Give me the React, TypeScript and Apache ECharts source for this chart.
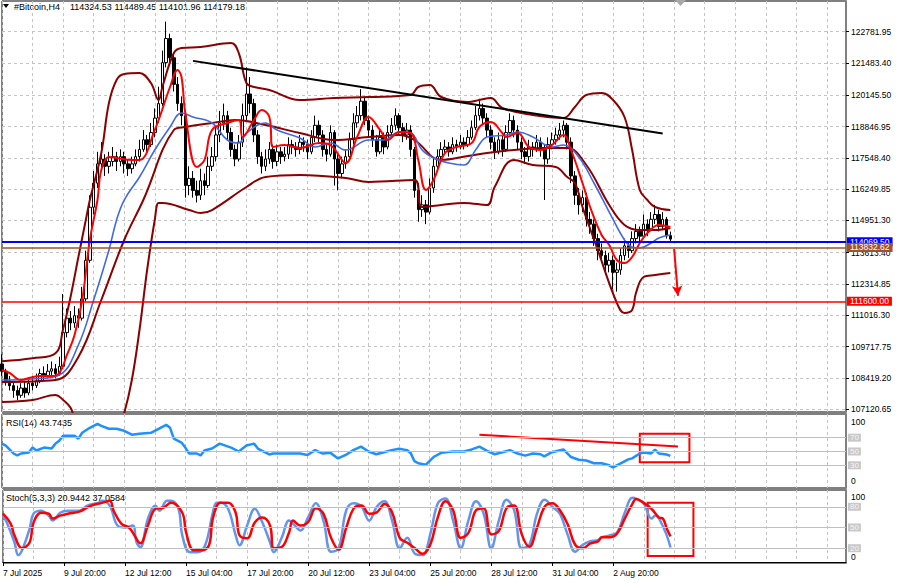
import React, { useEffect, useRef } from 'react';
import * as echarts from 'echarts';

const FONT = 'Liberation Sans, Arial, sans-serif';
const CAT_COUNT = 222;
const X_TICK_LABELS = ['7 Jul 2025', '9 Jul 20:00', '12 Jul 12:00', '15 Jul 04:00', '17 Jul 20:00', '20 Jul 12:00', '23 Jul 04:00', '25 Jul 20:00', '28 Jul 12:00', '31 Jul 04:00', '2 Aug 20:00'];
const PRICE_TICKS = [107120.65, 108419.2, 109717.75, 111016.3, 112314.85, 113613.4, 114951.3, 116249.85, 117548.4, 118846.95, 120145.5, 121483.4, 122781.95];

// [open, close, low, high]
const CANDLES: number[][] = [
  [109000,108700,108500,109400],[108700,108300,108100,108800],[108300,108100,107900,108500],[108100,107900,107600,108300],
  [107900,107700,107500,108100],[107700,108000,107600,108200],[108000,107800,107600,108300],[107800,108200,107700,108400],
  [108200,108100,107900,108500],[108100,108300,108000,108600],[108300,108600,108200,108800],[108600,108500,108300,108900],
  [108500,108700,108400,109000],[108700,108800,108500,109100],[108800,108600,108400,109000],[108600,108900,108500,109300],
  [108900,110300,108800,111900],[110300,110900,110100,111300],[110900,110700,110400,111200],[110700,111000,110500,111400],
  [111000,110900,110500,111300],[110900,111700,110800,112200],[111700,113300,111600,113700],[113300,115500,113200,116000],
  [115500,116500,115200,117000],[116500,117300,116300,117800],[117300,117500,117000,118200],[117500,117200,116800,117700],
  [117200,117400,116900,117800],[117400,117600,117200,118000],[117600,117400,117000,117800],[117400,117600,117200,117900],
  [117600,117300,116900,117800],[117300,117100,116800,117500],[117100,117300,116900,117600],[117300,117600,117200,117900],
  [117600,117900,117400,118300],[117900,118300,117800,118700],[118300,118100,117800,118500],[118100,118600,118000,119000],
  [118600,119200,118400,119600],[119200,119800,119000,120500],[119800,121500,119700,122000],[121500,122500,121300,123200],
  [122500,121700,121400,122700],[121700,120600,120300,121900],[120600,119800,119500,120900],[119800,119300,118900,120100],
  [119300,116400,115900,119500],[116400,116700,116000,117200],[116700,116200,115900,117000],[116200,116000,115700,116600],
  [116000,116600,115800,117100],[116600,116400,116000,116900],[116400,117200,116300,117600],[117200,117600,117000,118000],
  [117600,118500,117400,118900],[118500,119000,118200,119500],[119000,119300,118700,119800],[119300,118600,118300,119500],
  [118600,117900,117600,118800],[117900,117500,117200,118100],[117500,118200,117400,118500],[118200,119300,118000,119800],
  [119300,120200,119100,121300],[120200,119800,119400,120900],[119800,118500,118200,120000],[118500,117600,117300,118700],
  [117600,117200,116900,117800],[117200,117500,117000,117900],[117500,117900,117300,118200],[117900,117400,117100,118100],
  [117400,117800,117200,118100],[117800,117600,117300,118000],[117600,117700,117400,118000],[117700,118100,117500,118400],
  [118100,118000,117700,118300],[118000,117900,117600,118200],[117900,118200,117700,118500],[118200,118100,117800,118400],
  [118100,117800,117500,118300],[117800,118400,117700,118700],[118400,118900,118200,119300],[118900,118500,118200,119100],
  [118500,117900,117600,118700],[117900,117700,117400,118100],[117700,118600,117600,118900],[118600,117500,116400,118700],
  [117500,116900,116200,117700],[116900,117300,116700,117600],[117300,117600,117100,117900],[117600,118300,117500,118600],
  [118300,119000,118100,119400],[119000,119300,118800,119700],[119300,119900,119100,120400],[119900,119100,118900,120100],
  [119100,118700,118400,119300],[118700,118300,118000,118900],[118300,117800,117600,118500],[117800,118400,117700,118700],
  [118400,118000,117700,118600],[118000,118600,117900,118900],[118600,118900,118400,119200],[118900,119300,118700,119600],
  [119300,118800,118500,119400],[118800,118500,118200,119000],[118500,118700,118300,119000],[118700,117900,117600,118900],
  [117900,116200,115900,118000],[116200,115400,114900,116500],[115400,115600,115100,116000],[115600,115300,114800,115800],
  [115300,116300,115200,116700],[116300,117200,116100,117500],[117200,117600,117000,117900],[117600,117900,117400,118200],
  [117900,118000,117700,118300],[118000,117800,117600,118200],[117800,118100,117700,118400],[118100,118000,117800,118300],
  [118000,118200,117900,118500],[118200,118100,117900,118400],[118100,118400,118000,118700],[118400,118800,118300,119100],
  [118800,119300,118700,119700],[119300,119600,119100,120000],[119600,119200,118900,119800],[119200,118700,118400,119400],
  [118700,118200,117900,118900],[118200,117800,117500,118400],[117800,118300,117700,118600],[118300,117900,117600,118500],
  [117900,118600,117800,118900],[118600,119100,118500,119400],[119100,118700,118400,119300],[118700,118200,117900,118900],
  [118200,117800,117500,118400],[117800,117600,117300,118000],[117600,118000,117400,118300],[118000,117900,117600,118200],
  [117900,118200,117800,118500],[118200,117900,117600,118400],[117900,117500,115800,118100],[117500,118100,117300,118400],
  [118100,118300,117900,118600],[118300,118500,118100,118800],[118500,118700,118300,119000],[118700,118900,118400,119100],
  [118900,118200,117900,119000],[118200,116800,116500,118400],[116800,116000,115600,117000],[116000,115600,115200,116300],
  [115600,115900,115300,116200],[115900,115000,114700,116100],[115000,114800,114400,115300],[114800,114200,113900,115000],
  [114200,113700,113300,114400],[113700,113500,113200,114000],[113500,113100,112700,113700],[113100,113300,112800,113600],
  [113300,112800,112100,113500],[112800,112900,112000,113200],[112900,113500,112700,113800],[113500,113900,113300,114200],
  [113900,113700,113400,114100],[113700,114200,113600,114500],[114200,114500,114000,114800],[114500,114300,114000,114700],
  [114300,114800,114200,115200],[114800,114600,114300,115000],[114600,115000,114500,115300],[115000,115200,114800,115600],
  [115200,114700,114500,115400],[114700,115000,114600,115300],[115000,114320,114200,115100],[114324.53,114179.18,114101.96,114489.45],
];

// [bar index, value]
const BB_UPPER = [[0,109110],[8,109233],[14,109440],[16,110450],[18,111819],[20,113436],[22,115013],[23,115801],[26,117750],[28,119823],[30,120779],[32,121027],[36,121069],[39,120654],[41,119949],[42,120488],[45,121898],[47,122106],[52,122147],[60,122313],[62,121898],[64,120654],[66,120488],[70,120364],[78,119949],[87,120032],[96,120073],[107,120156],[109,120488],[112,120571],[115,120073],[122,119866],[125,119949],[128,120032],[131,119617],[139,119327],[147,119203],[150,119659],[153,120156],[157,120239],[160,119949],[163,119244],[165,117875],[167,116216],[169,115801],[171,115511],[175,115386]];
const BB_MIDDLE = [[0,108252],[14,108334],[20,109289],[26,111653],[32,114142],[37,115801],[45,118705],[48,118829],[55,118995],[61,119121],[69,118912],[78,118580],[87,118290],[96,118414],[104,118497],[108,118290],[115,117460],[122,117626],[127,117751],[134,117875],[142,117958],[148,117958],[153,117253],[159,115594],[163,114764],[167,114557],[171,114557],[175,114640]];
const BB_LOWER = [[0,107422],[8,107505],[14,107713],[16,107505],[18,107173],[19,106675],[20,106300],[22,105900],[25,105600],[28,105600],[30,106100],[32,106966],[34,108334],[36,110408],[38,112897],[40,114971],[41,115676],[42,115676],[49,115386],[52,115262],[55,115386],[64,116340],[69,116755],[78,116838],[90,116713],[96,116547],[108,116631],[110,115511],[115,115594],[121,115677],[127,115594],[129,116340],[134,117460],[139,117253],[145,117170],[148,116755],[150,116506],[152,115511],[156,113727],[161,111529],[163,111114],[165,111238],[166,111944],[168,112607],[171,112690],[175,112773]];
const MA_FAST = [[0,108749],[2,108625],[5,108334],[7,108417],[10,108500],[13,108500],[15,108625],[17,109372],[19,110201],[21,111653],[23,114142],[25,115801],[26,117045],[28,117585],[30,117543],[34,117460],[36,117460],[40,118705],[44,120488],[46,121193],[47,120903],[48,119410],[51,117170],[53,117460],[55,118705],[59,118995],[62,119121],[63,118415],[66,119121],[68,119534],[70,119244],[71,118000],[74,118082],[78,117958],[83,118165],[86,118082],[90,117336],[93,118415],[96,119244],[99,118705],[101,118290],[104,118622],[107,118580],[109,117460],[111,116216],[113,116631],[116,117751],[119,118000],[123,118165],[125,118829],[128,119036],[131,118580],[132,118414],[135,118580],[138,118000],[141,117875],[144,118082],[147,118497],[149,117875],[152,116506],[154,115511],[157,114350],[159,113934],[161,113312],[163,113188],[165,113437],[167,114017],[169,114432],[172,114764],[175,114681]];
const MA_SLOW = [[0,108334],[8,108376],[15,108542],[20,109786],[24,111653],[28,113727],[30,114971],[32,115801],[36,116755],[40,117875],[44,118829],[47,119410],[50,119244],[55,118995],[59,118290],[62,118165],[64,118580],[69,118995],[72,118705],[78,118373],[82,118000],[86,118165],[90,117875],[96,118290],[100,118290],[104,118622],[107,118580],[110,117875],[113,117543],[117,117336],[121,117253],[124,117875],[127,118414],[132,118497],[135,118622],[139,118414],[144,118000],[147,118082],[151,117585],[155,116506],[159,115303],[163,114142],[165,113852],[167,113810],[170,114017],[172,114225],[175,114350]];

const RSI = [[0,61.4],[1,58.6],[3,47.1],[4,44.3],[5,47.1],[7,48.6],[8,55.7],[9,51.4],[11,55.7],[13,54.3],[14,61.4],[15,65.7],[16,72.9],[19,72.9],[20,68.6],[21,77.1],[23,84.3],[25,90],[26,87.1],[28,82.9],[30,82.9],[32,80],[34,74.3],[36,75.7],[39,77.1],[41,82.9],[43,88.6],[44,84.3],[45,68.6],[47,62.9],[48,55.7],[49,47.1],[51,47.1],[52,44.3],[53,51.4],[55,54.3],[57,61.4],[60,55.7],[62,50],[64,58.6],[66,61.4],[67,54.3],[68,51.4],[70,45.7],[71,47.1],[75,47.1],[78,47.1],[80,45],[82,52],[84,47],[86,48],[88,40],[90,45],[92,52],[94,57],[96,50],[98,46],[100,49],[102,52],[104,54],[106,52],[107,48],[108,36],[109,33],[111,31],[113,42],[115,48],[118,50],[121,50],[123,53],[125,57],[127,51],[129,46],[131,49],[133,52],[135,47],[137,44],[139,47],[141,46],[142,43],[144,49],[147,53],[149,42],[151,38],[153,37],[155,33],[157,32.9],[159,30],[160,27.1],[162,32.9],[164,38.6],[165,40],[167,47.1],[168,48.6],[170,47.1],[171,52.9],[172,47.1],[174,45.7],[175,43.74]];
const STOCH_K = [[0,67.1],[1,57.1],[3,28.6],[4,10],[5,17.1],[7,48.6],[8,70],[10,74.3],[12,67.1],[13,60],[15,71.4],[17,74.3],[20,74.3],[22,81.4],[25,85.7],[26,88.6],[28,81.4],[30,52.9],[32,50],[34,52.9],[35,28.6],[36,21.4],[38,62.9],[40,81.4],[41,74.3],[43,88.6],[44,88.6],[46,77.1],[47,38.6],[49,14.3],[51,14.3],[53,24.3],[55,71.4],[56,85.7],[57,85.7],[59,77.1],[61,38.6],[62,24.3],[64,52.9],[66,77.1],[68,57.1],[70,28.6],[71,14.3],[73,34.3],[75,60],[76,55.7],[78,45.7],[80,65],[82,85],[84,60],[86,15],[88,20],[90,75],[92,85],[94,80],[96,60],[98,80],[100,88],[102,60],[104,20],[106,35],[108,12],[110,10],[112,40],[114,85],[116,92],[118,60],[120,20],[122,60],[124,88],[126,70],[128,20],[130,60],[132,90],[134,75],[136,20],[138,25],[140,70],[142,90],[144,80],[146,70],[148,40],[150,15],[152,25],[154,30],[156,32],[157,35.7],[159,38.6],[161,42.9],[163,71.4],[165,92.9],[166,91.4],[168,84.3],[170,62.9],[171,67.1],[172,62.9],[174,38.6],[175,20.94]];
const STOCH_D = [[0,70],[2,55.7],[3,38.6],[5,20],[7,28.6],[8,57.1],[10,71.4],[12,70],[13,62.9],[15,67.1],[17,70],[20,72.9],[23,81.4],[26,85.7],[28,88.6],[29,74.3],[31,55.7],[33,50],[34,42.9],[36,27.1],[38,52.9],[40,77.1],[42,78.6],[44,85.7],[47,71.4],[48,42.9],[50,17.1],[52,17.1],[54,24.3],[55,62.9],[57,85.7],[59,85.7],[61,71.4],[62,38.6],[64,34.3],[66,57.1],[68,64.3],[70,52.9],[71,20],[73,21.4],[75,42.9],[76,60],[78,52.9],[80,58],[82,78],[84,70],[86,35],[88,18],[90,50],[92,78],[94,82],[96,70],[98,72],[100,84],[102,72],[104,35],[106,28],[108,20],[110,12],[112,25],[114,65],[116,88],[118,75],[120,35],[122,42],[124,75],[126,78],[128,40],[130,45],[132,78],[134,82],[136,40],[138,22],[140,50],[142,80],[144,85],[146,75],[148,55],[150,25],[152,20],[154,27],[156,30],[157,35.7],[159,35.7],[161,41.4],[163,62.9],[165,84.3],[166,91.4],[168,85.7],[170,77.1],[172,64.3],[173,62.9],[174,48.6],[175,37.06]];

const H_LINES = [
  { value: 114069.5, color: '#0000ff', bg: '#0000ff', text: '#ffffff' },
  { value: 113832.62, color: '#a0522d', bg: '#a0522d', text: '#ffffff' },
  { value: 111600.0, color: '#ff0000', bg: '#ff0000', text: '#ffffff' },
];
const TRENDLINE = [[50, 121572], [173, 118560]];
const ARROW = [[176, 113770], [177, 111830]];
const RSI_TRENDLINE = [[125, 74.3], [177, 57.1]];
const RSI_BOX = [[167, 75.7], [180, 34.3]];
const STOCH_BOX = [[169, 85.7], [181, 8.6]];
const RSI_LEVELS = [70, 50, 30];
const STOCH_LEVELS = [80, 50, 20];

const CATEGORIES = Array.from({ length: CAT_COUNT }, (_, i) => String(i));

export default function App() {
  const ref = useRef<HTMLDivElement>(null);
  useEffect(() => {
    if (!ref.current) return;
    const chart = echarts.init(ref.current, undefined, { renderer: 'svg' });
    const dash = { type: [3, 3] as any, color: '#c4c4c4', width: 1 };
    const gridSplit = (i: number) => i % 8 === 0;
    const xAxisBase = (gi: number, labels: boolean) => ({
      type: 'category', gridIndex: gi, data: CATEGORIES, boundaryGap: false,
      axisLine: { show: labels, lineStyle: { color: '#000' } },
      axisTick: { show: labels, length: 4, interval: (i: number) => i % 16 === 0 && i / 16 < X_TICK_LABELS.length, lineStyle: { color: '#000' } },
      axisLabel: {
        show: labels, interval: (i: number) => i % 16 === 0 && i / 16 < X_TICK_LABELS.length,
        formatter: (_v: string, idx: number) => X_TICK_LABELS[idx / 16] ?? '',
        fontSize: 8.5, fontFamily: FONT, color: '#000', align: 'left', margin: 5,
      },
      splitLine: { show: true, interval: gridSplit, lineStyle: dash },
    });
    const levelLine = (levels: number[]) => ({
      silent: true, symbol: 'none',
      lineStyle: { color: '#c0c0c0', type: 'solid', width: 1 },
      label: { show: true, position: 'end', distance: 2, formatter: (p: any) => String(p.value), backgroundColor: '#c8c8c8', color: '#f6f6f6', fontSize: 8, fontFamily: FONT, padding: [0, 2] },
      data: levels.map(v => ({ yAxis: v })),
    });
    const line = (name: string, data: number[][], color: string, width: number, xi = 0, smooth: any = 0.4) => ({
      name, type: 'line', xAxisIndex: xi, yAxisIndex: xi, data, showSymbol: false, symbol: 'none', smooth,
      lineStyle: { color, width }, silent: true, z: 3,
    });

    chart.setOption({
      animation: false,
      backgroundColor: '#ffffff',
      grid: [
        { left: 2, right: 54, top: 1, height: 411, show: true, borderColor: '#000', borderWidth: 1 },
        { left: 2, right: 54, top: 414, height: 74, show: true, borderColor: '#000', borderWidth: 1 },
        { left: 2, right: 54, top: 490, height: 73, show: true, borderColor: '#000', borderWidth: 1 },
      ],
      xAxis: [xAxisBase(0, false), xAxisBase(1, false), xAxisBase(2, true)],
      yAxis: [
        {
          type: 'value', gridIndex: 0, position: 'right', min: 107007, max: 124056, scale: true,
          axisLine: { show: true, lineStyle: { color: '#808080', width: 2 } },
          axisTick: { show: true, length: 3, customValues: PRICE_TICKS, lineStyle: { color: '#000' } },
          axisLabel: { customValues: PRICE_TICKS, formatter: (v: number) => v.toFixed(2), fontSize: 8.5, fontFamily: FONT, color: '#000', margin: 5 },
          splitLine: { show: true, lineStyle: dash },
        },
        {
          type: 'value', gridIndex: 1, position: 'right', min: -2.86, max: 104.3,
          axisLine: { show: true, lineStyle: { color: '#808080', width: 2 } },
          axisTick: { show: false, customValues: [7.1, 92.9] },
          axisLabel: { customValues: [7.1, 92.9], formatter: (v: number) => (v > 50 ? '100' : '0'), fontSize: 8.5, fontFamily: FONT, color: '#000', margin: 5 },
          splitLine: { show: false },
        },
        {
          type: 'value', gridIndex: 2, position: 'right', min: -1.43, max: 104.3,
          axisLine: { show: true, lineStyle: { color: '#808080', width: 2 } },
          axisTick: { show: false, customValues: [7.6, 94.3] },
          axisLabel: { customValues: [7.6, 94.3], formatter: (v: number) => (v > 50 ? '100' : '0'), fontSize: 8.5, fontFamily: FONT, color: '#000', margin: 5 },
          splitLine: { show: false },
        },
      ],
      series: [
        {
          name: 'Bitcoin', type: 'candlestick', xAxisIndex: 0, yAxisIndex: 0, data: CANDLES, barWidth: 3, silent: true, z: 2,
          itemStyle: { color: '#ffffff', color0: '#000000', borderColor: '#000000', borderColor0: '#000000', borderWidth: 1 },
          markLine: {
            silent: true, symbol: 'none', z: 4,
            data: H_LINES.map(h => ({
              yAxis: h.value,
              lineStyle: { color: h.color, width: h.color === '#0000ff' ? 2 : 1.5, type: 'solid' },
              label: { show: true, position: 'end', distance: 1, formatter: h.value.toFixed(2), backgroundColor: h.bg, color: h.text, fontSize: 8.5, fontFamily: FONT, padding: [0, 3] },
            })),
          },
        },
        line('BB upper', BB_UPPER, '#8b0000', 2),
        line('BB middle', BB_MIDDLE, '#8b0000', 2),
        line('BB lower', BB_LOWER, '#8b0000', 2),
        line('MA slow', MA_SLOW, '#4169e1', 1.6),
        line('MA fast', MA_FAST, '#ff0000', 2),
        { ...line('Trend', TRENDLINE, '#000000', 2, 0, false), z: 5 },
        {
          name: 'Arrow', type: 'line', xAxisIndex: 0, yAxisIndex: 0, data: [], silent: true,
          markLine: {
            silent: true, symbol: ['none', 'arrow'], symbolSize: [8, 10],
            lineStyle: { color: '#ff0000', width: 2, type: 'solid' }, label: { show: false },
            data: [[{ coord: ARROW[0] }, { coord: ARROW[1] }]],
          },
        },
        {
          ...line('RSI', RSI, '#1e90ff', 2.5, 1, false),
          markLine: levelLine(RSI_LEVELS),
          markArea: { silent: true, itemStyle: { color: 'rgba(0,0,0,0)', borderColor: '#ff0000', borderWidth: 2 }, data: [[{ coord: RSI_BOX[0] }, { coord: RSI_BOX[1] }]] },
        },
        { ...line('RSI trend', RSI_TRENDLINE, '#ff0000', 2, 1, false), z: 4 },
        {
          ...line('Stoch K', STOCH_K, '#6495ed', 2.5, 2, 0.4),
          markLine: levelLine(STOCH_LEVELS),
          markArea: { silent: true, itemStyle: { color: 'rgba(0,0,0,0)', borderColor: '#ff0000', borderWidth: 2 }, data: [[{ coord: STOCH_BOX[0] }, { coord: STOCH_BOX[1] }]] },
        },
        { ...line('Stoch D', STOCH_D, '#ff0000', 2.5, 2, 0.4), z: 4 },
      ],
      graphic: [
        { type: 'polygon', shape: { points: [[3, 4], [9, 4], [6, 8]] }, style: { fill: '#000' } },
        { type: 'text', x: 14, y: 2, style: { text: '#Bitcoin,H4', font: `9px ${FONT}`, fill: '#000' } },
        { type: 'text', x: 70, y: 2, style: { text: '114324.53 114489.45 114101.96 114179.18', font: `9px ${FONT}`, fill: '#000' } },
        { type: 'polygon', shape: { points: [[675, 0], [686, 0], [680.5, 6]] }, style: { fill: '#a8a8a8' } },
        { type: 'text', x: 6, y: 418, style: { text: 'RSI(14) 43.7435', font: `9px ${FONT}`, fill: '#000' } },
        { type: 'text', x: 6, y: 493, style: { text: 'Stoch(5,3,3) 20.9442 37.0584', font: `9px ${FONT}`, fill: '#000' } },
      ],
    });
    return () => chart.dispose();
  }, []);
  return <div ref={ref} style={{ position: 'absolute', left: 0, top: 0, width: 900, height: 583, background: '#fff' }} />;
}
